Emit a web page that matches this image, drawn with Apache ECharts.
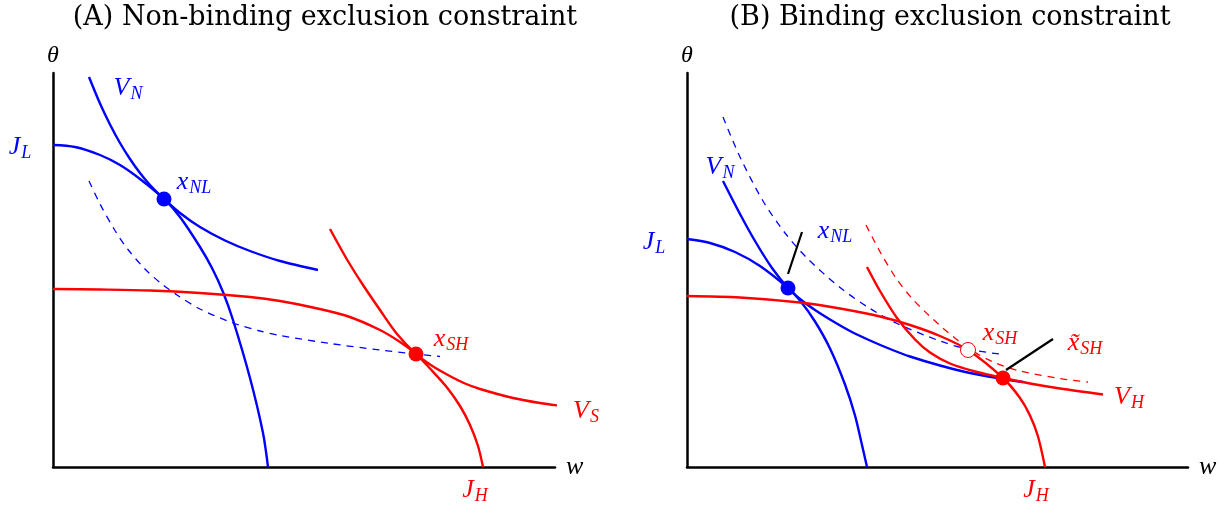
<!DOCTYPE html>
<html><head><meta charset="utf-8">
<script src="https://cdn.jsdelivr.net/npm/echarts@6/dist/echarts.min.js"></script>
<style>html,body{margin:0;padding:0;background:#fff}#c{width:1231px;height:508px}</style>
</head><body><div id="c"></div>
<script>
const BLUE = '#0000ff', RED = '#ff0000';

// ---------- Panel A: Non-binding exclusion constraint ----------
const vN_A = [[0.72,7.80],[0.94,7.27],[1.14,6.85],[1.34,6.48],[1.54,6.16],[1.74,5.88],[1.94,5.64],[2.22,5.36],[2.54,5.08],[2.94,4.80],[3.44,4.53],[3.94,4.32],[4.54,4.12],[5.30,3.94]];
const jL_A = [[0,6.44],[0.44,6.40],[0.94,6.24],[1.34,6.04],[1.74,5.76],[2.22,5.36],[2.54,5.00],[2.94,4.40],[3.18,3.98],[3.40,3.50],[3.60,2.94],[3.94,1.78],[4.20,0.68],[4.30,0]];
const dashB_A = [[0.72,5.72],[0.94,5.26],[1.24,4.73],[1.50,4.35],[1.84,3.96],[2.14,3.69],[2.48,3.44],[2.94,3.16],[3.60,2.88],[4.14,2.72],[4.54,2.63],[5.54,2.47],[6.54,2.34],[7.26,2.26],[7.74,2.21]];
const jH_A = [[0,3.56],[0.94,3.55],[1.94,3.53],[2.94,3.48],[3.94,3.40],[4.54,3.32],[5.20,3.19],[5.88,3.02],[6.54,2.74],[6.94,2.50],[7.26,2.26],[7.54,1.97],[7.88,1.59],[8.14,1.22],[8.34,0.84],[8.50,0.42],[8.60,0]];
const vS_A = [[5.54,4.76],[5.88,4.15],[6.20,3.64],[6.54,3.14],[6.88,2.66],[7.26,2.26],[7.54,2.05],[7.88,1.85],[8.24,1.67],[8.54,1.56],[9.20,1.38],[9.74,1.28],[10.26,1.21]];
const xNL_A = [2.22,5.36];
const xSH_A = [7.26,2.26];
const labelsA = [
  ['V','N',1.50,7.58,BLUE],['J','L',-0.66,6.40,BLUE],['x','NL',2.82,5.70,BLUE],
  ['x','SH',7.96,2.56,RED],['V','S',10.66,1.12,RED],['J','H',8.44,-0.46,RED]
];

// ---------- Panel B: Binding exclusion constraint ----------
const vN_B = [[0.72,5.72],[1.06,5.06],[1.36,4.52],[1.70,3.98],[2.02,3.58],[2.26,3.36],[2.56,3.14],[2.86,2.95],[3.26,2.72],[3.66,2.53],[4.06,2.36],[4.46,2.21],[5.06,2.03],[5.66,1.88],[6.26,1.77],[6.72,1.70]];
const jL_B = [[0,4.56],[0.46,4.48],[0.96,4.30],[1.46,4.02],[2.02,3.58],[2.26,3.33],[2.56,2.91],[2.86,2.37],[3.16,1.65],[3.36,1.03],[3.50,0.44],[3.60,0]];
const dashB_B = [[0.72,7.00],[1.06,6.20],[1.52,5.32],[1.96,4.68],[2.40,4.18],[3.06,3.59],[3.66,3.17],[4.20,2.87],[5.06,2.52],[5.60,2.36],[6.32,2.25]];
const jH_B = [[0,3.42],[1.06,3.39],[2.26,3.29],[3.06,3.17],[3.86,3.01],[4.46,2.84],[5.06,2.62],[5.62,2.34],[6.32,1.78],[6.66,1.38],[6.86,1.03],[7.02,0.61],[7.16,0]];
const vH_B = [[3.60,4.00],[3.86,3.52],[4.20,2.98],[4.56,2.55],[4.86,2.29],[5.26,2.07],[5.76,1.91],[6.32,1.78],[6.86,1.67],[7.46,1.57],[8.32,1.45]];
const dashR_B = [[3.58,4.84],[3.88,4.27],[4.18,3.78],[4.52,3.35],[5.06,2.83],[5.62,2.38],[6.12,2.10],[6.66,1.92],[7.46,1.77],[8.02,1.70]];
const xNL_B = [2.02,3.58];
const xSH_B = [5.62,2.34];
const xSHt_B = [6.32,1.78];
const leaderNL_B = [[2.02,3.86],[2.30,4.70]];
const leaderSHt_B = [[6.38,1.94],[7.32,2.56]];
const labelsB = [
  ['V','N',0.66,6.00,BLUE],['J','L',-0.66,4.50,BLUE],['x','NL',2.96,4.72,BLUE],
  ['x','SH',6.26,2.68,RED],['x\u0303','SH',7.96,2.48,RED],['V','H',8.84,1.40,RED],['J','H',6.98,-0.46,RED]
];

const MATH = 'Liberation Serif';
function axisPair(gi, xmax) {
  return {
    x: {type:'value', gridIndex:gi, min:0, max:xmax,
        axisLine:{show:true,onZero:false,lineStyle:{color:'#000',width:2.5}},
        axisTick:{show:false}, axisLabel:{show:false}, splitLine:{show:false},
        name:'w', nameLocation:'end', nameGap:11,
        nameTextStyle:{fontFamily:MATH,fontStyle:'italic',fontSize:26,color:'#000',verticalAlign:'middle',padding:[0,0,4,0]}},
    y: {type:'value', gridIndex:gi, min:0, max:7.88,
        axisLine:{show:true,onZero:false,lineStyle:{color:'#000',width:2.5}},
        axisTick:{show:false}, axisLabel:{show:false}, splitLine:{show:false},
        name:'θ', nameLocation:'end', nameGap:5,
        nameTextStyle:{fontFamily:MATH,fontStyle:'italic',fontSize:24,color:'#000',align:'center'}}
  };
}
const A = axisPair(0, 10.04), B = axisPair(1, 10.02);

function curve(gi, data, color, dashed) {
  return {type:'line', xAxisIndex:gi, yAxisIndex:gi, data:data, showSymbol:false, symbol:'none',
    smooth:0.3, clip:false, silent:true, z:2,
    lineStyle: dashed ? {color:color,width:1.3,type:[7,6],opacity:1} : {color:color,width:2.4,opacity:1}};
}
function dot(gi, p, color, open) {
  return {type:'scatter', xAxisIndex:gi, yAxisIndex:gi, data:[p], symbol:'circle', symbolSize:15, silent:true, z:5,
    itemStyle: open ? {color:'#fff', borderColor:color, borderWidth:1, opacity:1} : {color:color, opacity:1}};
}
function leader(gi, data) {
  return {type:'line', xAxisIndex:gi, yAxisIndex:gi, data:data, showSymbol:false, symbol:'none', silent:true, z:4,
    lineStyle:{color:'#000',width:2.2}};
}
function labels(gi, arr) {
  return {type:'scatter', xAxisIndex:gi, yAxisIndex:gi, symbolSize:1, silent:true, clip:false, z:6,
    itemStyle:{color:'rgba(0,0,0,0)'},
    data: arr.map(a => ({value:[a[2],a[3]], label:{show:true, position:'inside', color:a[4], opacity:1,
      formatter:'{m|'+a[0]+'}{s|'+a[1]+'}',
      rich:{m:{fontFamily:MATH,fontStyle:'italic',fontSize:26,color:a[4],lineHeight:30},
            s:{fontFamily:MATH,fontStyle:'italic',fontSize:18,color:a[4],lineHeight:30,padding:[12,0,0,1]}}}}))
  };
}

const chart = echarts.init(document.getElementById('c'), null, {renderer:'canvas'});
chart.setOption({
  animation:false,
  backgroundColor:'#fff',
  title:[
    {text:'(A) Non-binding exclusion constraint', left:320, top:-1, textAlign:'center',
     textStyle:{fontFamily:'DejaVu Serif',fontWeight:'normal',fontSize:27,color:'#000'}},
    {text:'(B) Binding exclusion constraint', left:945, top:-1, textAlign:'center',
     textStyle:{fontFamily:'DejaVu Serif',fontWeight:'normal',fontSize:27,color:'#000'}}
  ],
  grid:[
    {left:53, top:73, width:502, height:394},
    {left:687, top:73, width:501, height:394}
  ],
  xAxis:[A.x, B.x],
  yAxis:[A.y, B.y],
  series:[
    curve(0, dashB_A, BLUE, true),
    curve(0, vN_A, BLUE), curve(0, jL_A, BLUE),
    curve(0, jH_A, RED), curve(0, vS_A, RED),
    dot(0, xNL_A, BLUE), dot(0, xSH_A, RED),
    labels(0, labelsA),
    curve(1, dashB_B, BLUE, true), curve(1, dashR_B, RED, true),
    curve(1, vN_B, BLUE), curve(1, jL_B, BLUE),
    curve(1, jH_B, RED), curve(1, vH_B, RED),
    leader(1, leaderNL_B), leader(1, leaderSHt_B),
    dot(1, xNL_B, BLUE), dot(1, xSH_B, RED, true), dot(1, xSHt_B, RED),
    labels(1, labelsB)
  ]
});
</script>
</body></html>
